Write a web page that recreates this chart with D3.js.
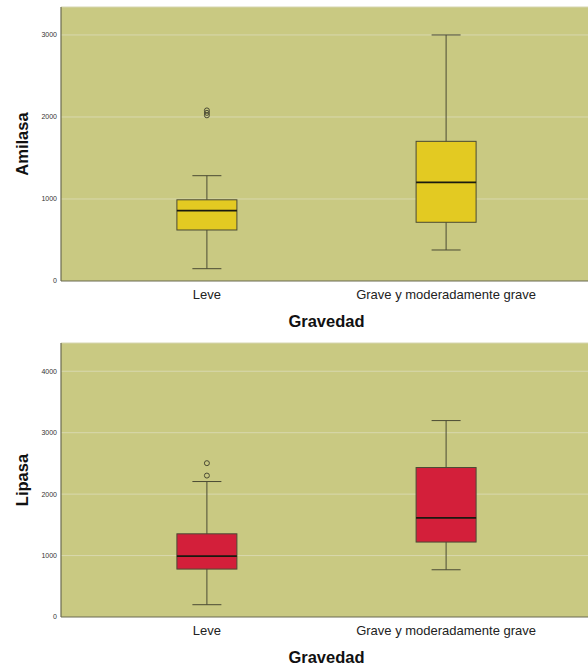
<html>
<head>
    <script src="https://d3js.org/d3.v7.min.js"></script>
    <style>
        body { margin: 0; background: #fff; }
        text { font-family: "Liberation Sans", Arial, sans-serif; }
        .tick-label { font-size: 7px; fill: #333; }
        .cat-label { font-size: 13px; fill: #222; }
        .axis-title { font-size: 16.5px; font-weight: bold; fill: #111; }
    </style>
</head>
<body>
    <svg id="chart" width="588" height="666"></svg>
    <script>
        // categories
        const categories = ["Leve", "Grave y moderadamente grave"];

        // Amilasa box stats per category: [min whisker, q1, median, q3, max whisker]
        const amilasaStats = [
            [150, 622, 857, 990, 1284],
            [378, 716, 1203, 1703, 3000]
        ];
        const amilasaOutliers = [[2020, 2050, 2080], []];
        const amilasaTicks = [0, 1000, 2000, 3000];

        // Lipasa box stats
        const lipasaStats = [
            [200, 780, 990, 1354, 2205],
            [769, 1220, 1615, 2433, 3197]
        ];
        const lipasaOutliers = [[2302, 2504], []];
        const lipasaTicks = [0, 1000, 2000, 3000, 4000];

        const svg = d3.select("svg#chart");
        const left = 61, right = 592;

        const xScale = d3.scalePoint().domain(categories).range([left, right]).padding(0.61);

        function drawPanel(top, bottom, yMax, stats, outliers, ticks, color, yTitle) {
            const yScale = d3.scaleLinear().domain([0, yMax]).range([bottom, top]);
            const g = svg.append("g");

            // background
            g.append("rect")
                .attr("x", left).attr("y", top)
                .attr("width", right - left).attr("height", bottom - top)
                .attr("fill", "#c9c982");

            // gridlines
            g.selectAll("line.grid")
                .data(ticks.filter(t => t > 0))
                .join("line")
                .attr("class", "grid")
                .attr("x1", left).attr("x2", right)
                .attr("y1", d => yScale(d)).attr("y2", d => yScale(d))
                .attr("stroke", "#d8d8ae").attr("stroke-width", 1);

            // top border
            g.append("line")
                .attr("x1", left).attr("x2", right)
                .attr("y1", top).attr("y2", top)
                .attr("stroke", "#d6d6b0");

            // axis lines
            g.append("line")
                .attr("x1", left).attr("x2", left)
                .attr("y1", top).attr("y2", bottom)
                .attr("stroke", "#6b6b50").attr("stroke-width", 1.2);
            g.append("line")
                .attr("x1", left).attr("x2", right)
                .attr("y1", bottom).attr("y2", bottom)
                .attr("stroke", "#6b6b50").attr("stroke-width", 1.2);

            // tick labels
            g.selectAll("text.tick-label")
                .data(ticks)
                .join("text")
                .attr("class", "tick-label")
                .attr("x", left - 4)
                .attr("y", d => yScale(d))
                .attr("dy", "0.35em")
                .attr("text-anchor", "end")
                .text(d => d);

            const boxW = 60, capW = 29;
            const boxes = g.selectAll("g.box")
                .data(stats.map((s, i) => ({ cat: categories[i], s: s, out: outliers[i] })))
                .join("g")
                .attr("class", "box");

            // whiskers
            boxes.append("line")
                .attr("x1", d => xScale(d.cat)).attr("x2", d => xScale(d.cat))
                .attr("y1", d => yScale(d.s[0])).attr("y2", d => yScale(d.s[4]))
                .attr("stroke", "#4a4a34").attr("stroke-width", 1);
            [0, 4].forEach(k => {
                boxes.append("line")
                    .attr("x1", d => xScale(d.cat) - capW / 2).attr("x2", d => xScale(d.cat) + capW / 2)
                    .attr("y1", d => yScale(d.s[k])).attr("y2", d => yScale(d.s[k]))
                    .attr("stroke", "#4a4a34").attr("stroke-width", 1);
            });

            // box
            boxes.append("rect")
                .attr("x", d => xScale(d.cat) - boxW / 2)
                .attr("y", d => yScale(d.s[3]))
                .attr("width", boxW)
                .attr("height", d => yScale(d.s[1]) - yScale(d.s[3]))
                .attr("fill", color)
                .attr("stroke", "#4a4a34").attr("stroke-width", 1);

            // median
            boxes.append("line")
                .attr("x1", d => xScale(d.cat) - boxW / 2).attr("x2", d => xScale(d.cat) + boxW / 2)
                .attr("y1", d => yScale(d.s[2])).attr("y2", d => yScale(d.s[2]))
                .attr("stroke", "#1a1a10").attr("stroke-width", 1.8);

            // outliers
            boxes.selectAll("circle")
                .data(d => d.out.map(v => ({ cat: d.cat, v: v })))
                .join("circle")
                .attr("cx", d => xScale(d.cat))
                .attr("cy", d => yScale(d.v))
                .attr("r", 2.5)
                .attr("fill", "none")
                .attr("stroke", "#4a4a34").attr("stroke-width", 1);

            // category labels
            g.selectAll("text.cat-label")
                .data(categories)
                .join("text")
                .attr("class", "cat-label")
                .attr("x", d => xScale(d))
                .attr("y", bottom + 18)
                .attr("text-anchor", "middle")
                .text(d => d);

            // x title
            g.append("text")
                .attr("class", "axis-title")
                .attr("x", (left + right) / 2)
                .attr("y", bottom + 46)
                .attr("text-anchor", "middle")
                .text("Gravedad");

            // y title
            g.append("text")
                .attr("class", "axis-title")
                .attr("transform", `translate(28,${(top + bottom) / 2}) rotate(-90)`)
                .attr("text-anchor", "middle")
                .text(yTitle);
        }

        drawPanel(7, 281, 3341, amilasaStats, amilasaOutliers, amilasaTicks, "#e3ca22", "Amilasa");
        drawPanel(343, 617, 4460, lipasaStats, lipasaOutliers, lipasaTicks, "#d31f3a", "Lipasa");
    </script>
</body>
</html>
